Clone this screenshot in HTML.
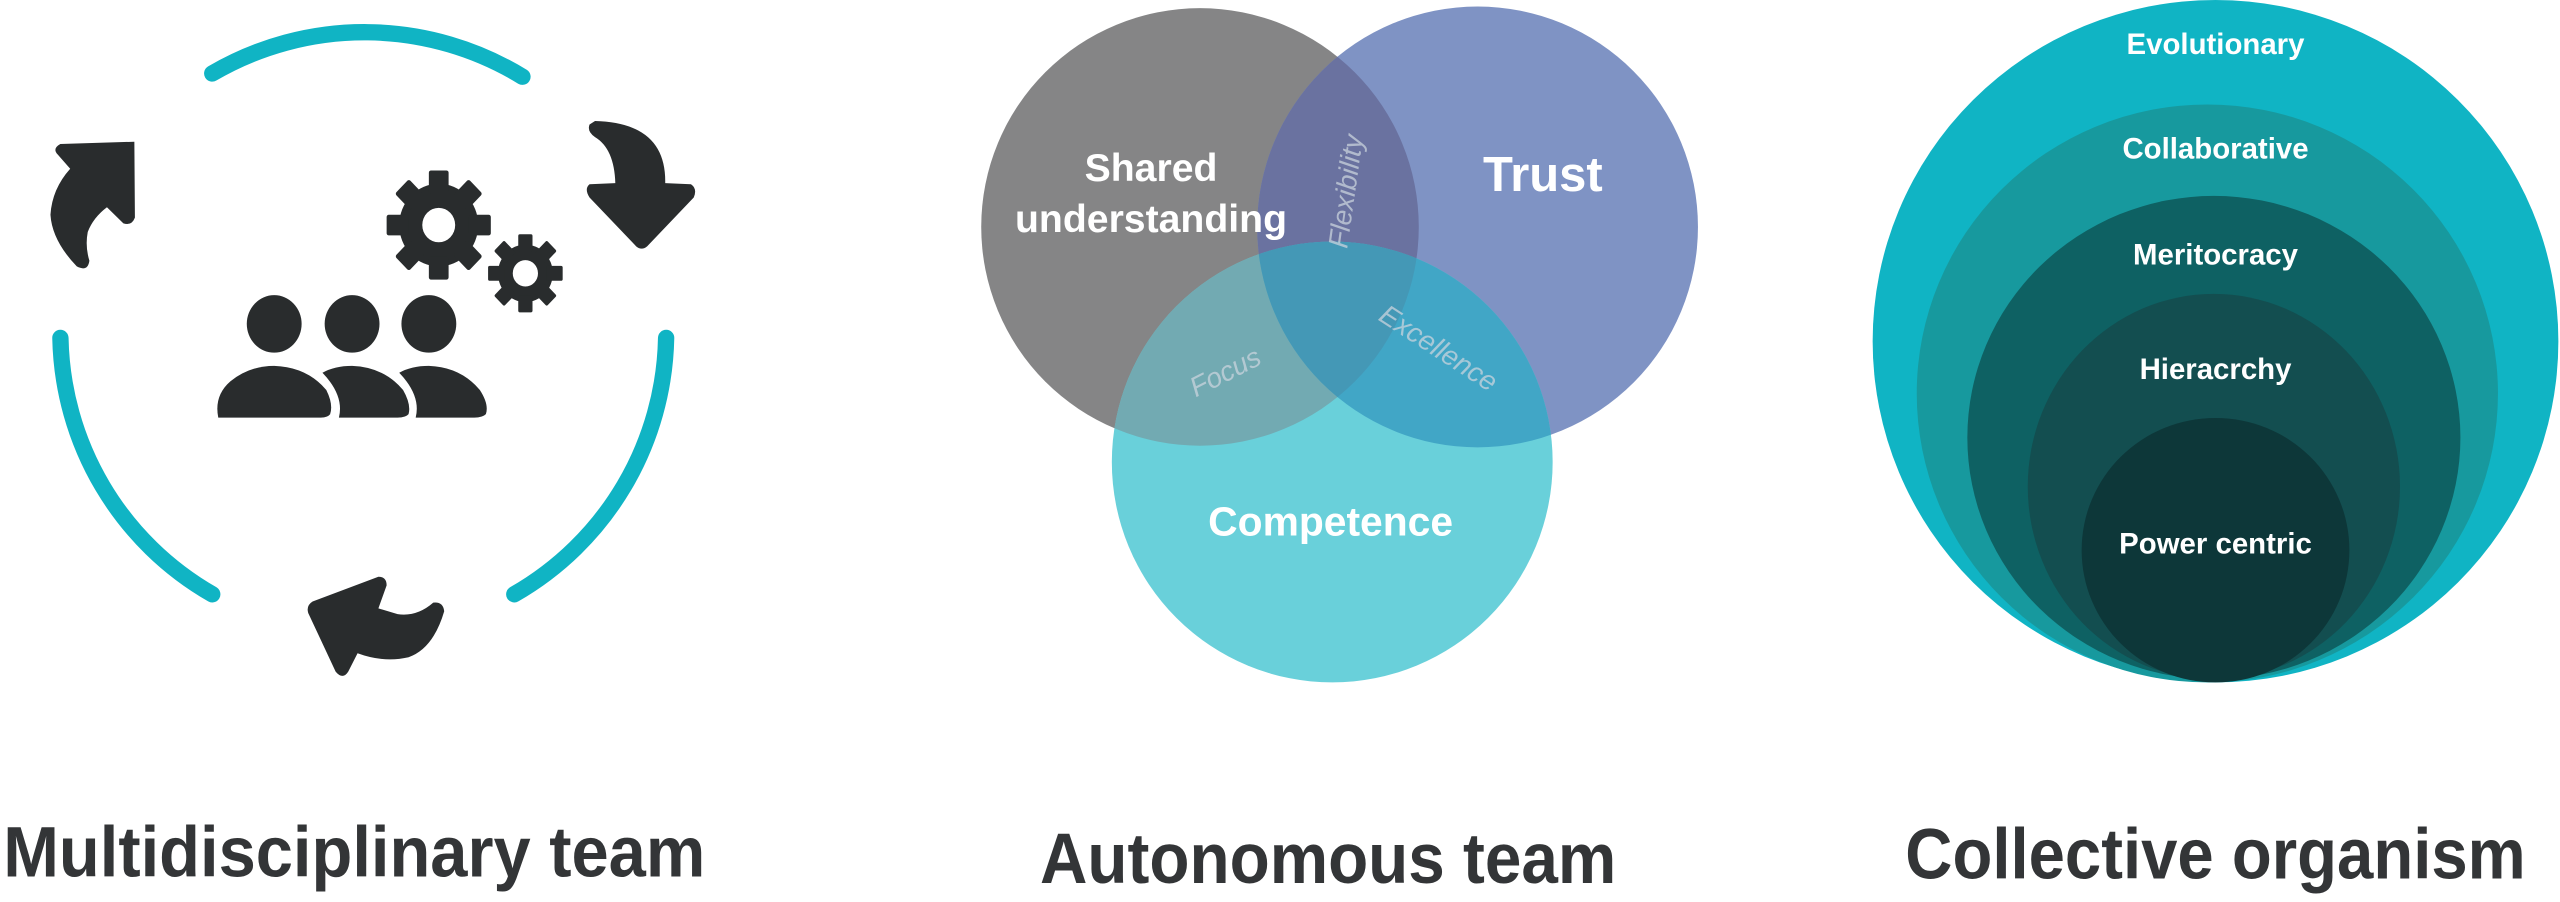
<!DOCTYPE html>
<html><head><meta charset="utf-8"><style>
html,body{margin:0;padding:0;background:#fff;}
svg{display:block;}
text{font-family:"Liberation Sans",sans-serif;}
</style></head><body>
<svg width="2560" height="902" viewBox="0 0 1568 552.5" preserveAspectRatio="none" xmlns="http://www.w3.org/2000/svg">
<defs>
<clipPath id="cg"><circle cx="735" cy="139" r="134"/></clipPath>
<clipPath id="cb"><circle cx="905" cy="139" r="135"/></clipPath>
<clipPath id="cc"><circle cx="816" cy="283" r="135"/></clipPath>
</defs>
<!-- Left: cycle -->
<g fill="none" stroke="#10b4c4" stroke-width="10" stroke-linecap="round">
<path d="M130,45 A185,185 0 0 1 320,47"/>
<path d="M37,207 A185,185 0 0 0 130,364"/>
<path d="M408,207 A185,185 0 0 1 315,364"/>
</g>
<g transform="translate(0,-4) scale(0.3359,0.352)" fill="#292c2d">
<path d="M245,258 L110,262 Q95,270 105,280 L128,305 Q95,340 92,385 Q95,430 140,475 Q160,485 163,465 Q155,440 160,415 Q170,390 195,372 L225,400 Q240,405 246,390 Z"/>
<path d="M1075,228 Q1070,240 1085,250 Q1120,270 1122,330 L1075,332 Q1065,340 1075,355 L1160,440 Q1170,448 1180,440 L1265,355 Q1272,340 1260,332 L1213,330 Q1215,225 1085,222 Z"/>
<path d="M690,1015 L570,1058 Q558,1065 562,1078 L612,1180 Q625,1195 635,1180 L652,1148 Q700,1165 745,1155 Q790,1140 810,1075 Q808,1058 790,1060 Q760,1085 725,1080 L690,1070 L705,1030 Q705,1015 690,1015 Z"/>
<circle cx="500" cy="575" r="50"/><circle cx="642" cy="575" r="50"/><circle cx="782" cy="575" r="50"/>
<path d="M398,738 Q390,700 420,675 Q455,648 500,648 Q560,650 595,690 Q608,715 602,732 Q598,738 585,738 Z"/>
<path d="M588,660 Q610,648 642,648 Q700,650 735,690 Q750,715 745,732 Q740,738 725,738 L618,738 Q628,700 588,660 Z"/>
<path d="M728,660 Q750,648 782,648 Q840,650 875,690 Q892,715 886,732 Q880,738 865,738 L758,738 Q768,700 728,660 Z"/>
<g transform="translate(800,403)">
<circle r="72"/>
<g><rect x="-18" y="-95" width="36" height="40" rx="4"/><rect x="-18" y="55" width="36" height="40" rx="4"/><rect x="-95" y="-18" width="40" height="36" rx="4"/><rect x="55" y="-18" width="40" height="36" rx="4"/></g>
<g transform="rotate(45)"><rect x="-18" y="-95" width="36" height="40" rx="4"/><rect x="-18" y="55" width="36" height="40" rx="4"/><rect x="-95" y="-18" width="40" height="36" rx="4"/><rect x="55" y="-18" width="40" height="36" rx="4"/></g>
<circle r="30" fill="#fff"/>
</g>
<g transform="translate(958,487)">
<circle r="50"/>
<g><rect x="-13" y="-68" width="26" height="30" rx="3"/><rect x="-13" y="38" width="26" height="30" rx="3"/><rect x="-68" y="-13" width="30" height="26" rx="3"/><rect x="38" y="-13" width="30" height="26" rx="3"/></g>
<g transform="rotate(45)"><rect x="-13" y="-68" width="26" height="30" rx="3"/><rect x="-13" y="38" width="26" height="30" rx="3"/><rect x="-68" y="-13" width="30" height="26" rx="3"/><rect x="38" y="-13" width="30" height="26" rx="3"/></g>
<circle r="23" fill="#fff"/>
</g>
</g>
<text x="2" y="537" font-size="44" font-weight="bold" fill="#333537" textLength="430" lengthAdjust="spacingAndGlyphs">Multidisciplinary team</text>

<!-- Middle: Venn -->
<circle cx="735" cy="139" r="134" fill="#858586"/>
<circle cx="905" cy="139" r="135" fill="#7f93c4"/>
<circle cx="816" cy="283" r="135" fill="#69d0da"/>
<circle cx="905" cy="139" r="135" fill="#6a72a0" clip-path="url(#cg)"/>
<circle cx="816" cy="283" r="135" fill="#72aab2" clip-path="url(#cg)"/>
<circle cx="816" cy="283" r="135" fill="#41a6c6" clip-path="url(#cb)"/>
<g clip-path="url(#cg)"><circle cx="816" cy="283" r="135" fill="#4498b6" clip-path="url(#cb)"/></g>
<g fill="#fff" font-weight="bold" text-anchor="middle">
<text x="705" y="111" font-size="24">Shared</text>
<text x="705" y="142" font-size="24">understanding</text>
<text x="945" y="117" font-size="30">Trust</text>
<text x="815" y="328" font-size="25">Competence</text>
</g>
<g fill="#c9d3dc" fill-opacity="0.75" font-style="italic" font-size="17" text-anchor="middle">
<text transform="translate(830,118) rotate(-82)">Flexibility</text>
<text transform="translate(753,233) rotate(-27)">Focus</text>
<text transform="translate(878,218) rotate(33)">Excellence</text>
</g>
<text x="637" y="541" font-size="44" font-weight="bold" fill="#333537" textLength="353" lengthAdjust="spacingAndGlyphs">Autonomous team</text>

<!-- Right: nested -->
<ellipse cx="1357" cy="209" rx="210" ry="209" fill="#10b4c4"/>
<ellipse cx="1352" cy="241" rx="178" ry="177" fill="#17999e"/>
<ellipse cx="1356" cy="268" rx="151" ry="148" fill="#0e6163"/>
<ellipse cx="1356" cy="298" rx="114" ry="118" fill="#134e50"/>
<ellipse cx="1357" cy="337" rx="82" ry="81" fill="#0d3739"/>
<g fill="#fff" font-weight="bold" font-size="18" text-anchor="middle">
<text x="1357" y="33">Evolutionary</text>
<text x="1357" y="97">Collaborative</text>
<text x="1357" y="162">Meritocracy</text>
<text x="1357" y="232">Hieracrchy</text>
<text x="1357" y="339">Power centric</text>
</g>
<text x="1167" y="538" font-size="44" font-weight="bold" fill="#333537" textLength="380" lengthAdjust="spacingAndGlyphs">Collective organism</text>
</svg>
</body></html>
